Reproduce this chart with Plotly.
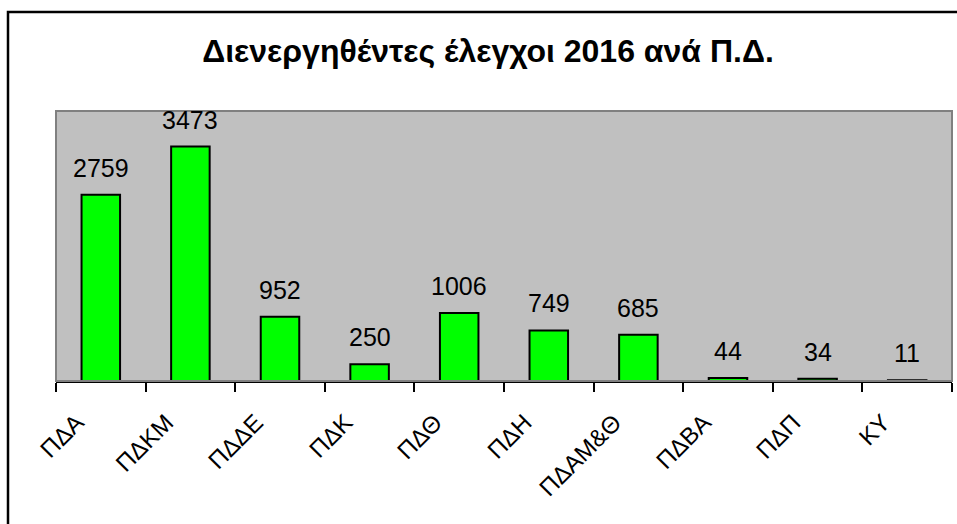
import plotly.graph_objects as go

categories = ["ΠΔΑ", "ΠΔΚΜ", "ΠΔΔΕ", "ΠΔΚ", "ΠΔΘ", "ΠΔΗ", "ΠΔΑΜ&Θ", "ΠΔΒΑ", "ΠΔΠ", "ΚΥ"]
values = [2759, 3473, 952, 250, 1006, 749, 685, 44, 34, 11]
title_text = "Διενεργηθέντες έλεγχοι 2016 ανά Π.Δ."

W, H = 957, 524
L, R, T, B = 56, 5, 111, 143
pw = W - L - R
ph = H - T - B

FONT = "Liberation Sans, Arial, sans-serif"

fig = go.Figure()
fig.add_trace(go.Bar(
    x=categories, y=values,
    marker=dict(color="#00ff00", line=dict(color="black", width=2)),
    hoverinfo="x+y",
))

for c, v in zip(categories, values):
    fig.add_annotation(x=c, y=v, text=str(v), showarrow=False,
                       yanchor="bottom", yshift=11,
                       font=dict(family=FONT, size=25, color="black"))

# plot area frame (gray) and outer chart border
fig.add_shape(type="rect", xref="paper", yref="paper", x0=0, x1=1, y0=0, y1=1,
              line=dict(color="#808080", width=2), layer="above")
fig.add_shape(type="rect", xref="paper", yref="paper",
              x0=(8 - L) / pw, x1=1 + (W + 10 - (W - R)) / pw,
              y0=-(H + 10 - (H - B)) / ph, y1=1 + (T - 12) / ph,
              line=dict(color="black", width=2.5))

fig.update_layout(
    width=W, height=H,
    margin=dict(l=L, r=R, t=T, b=B),
    paper_bgcolor="white", plot_bgcolor="#c0c0c0",
    bargap=0.57,
    showlegend=False,
    font=dict(family=FONT, size=24, color="black"),
    title=dict(text="<b>" + title_text + "</b>", x=488 / W, xanchor="center",
               xref="container", yref="container", y=1 - 50.5 / H, yanchor="middle",
               font=dict(family=FONT, size=32, color="black")),
    xaxis=dict(type="category", tickangle=-45, tickson="boundaries",
               ticks="outside", ticklen=9, tickwidth=2, tickcolor="black",
               ticklabelshift=-24, ticklabelstandoff=16,
               showline=True, linecolor="black", linewidth=2,
               showgrid=False, zeroline=False,
               tickfont=dict(family=FONT, size=24, color="black")),
    yaxis=dict(range=[0, 4000], showticklabels=False, showgrid=False,
               zeroline=False, ticks="", showline=False),
)

fig.write_html("out.html", config={"displayModeBar": False},
               post_script="document.body.style.margin='0';document.body.style.overflow='hidden';")
